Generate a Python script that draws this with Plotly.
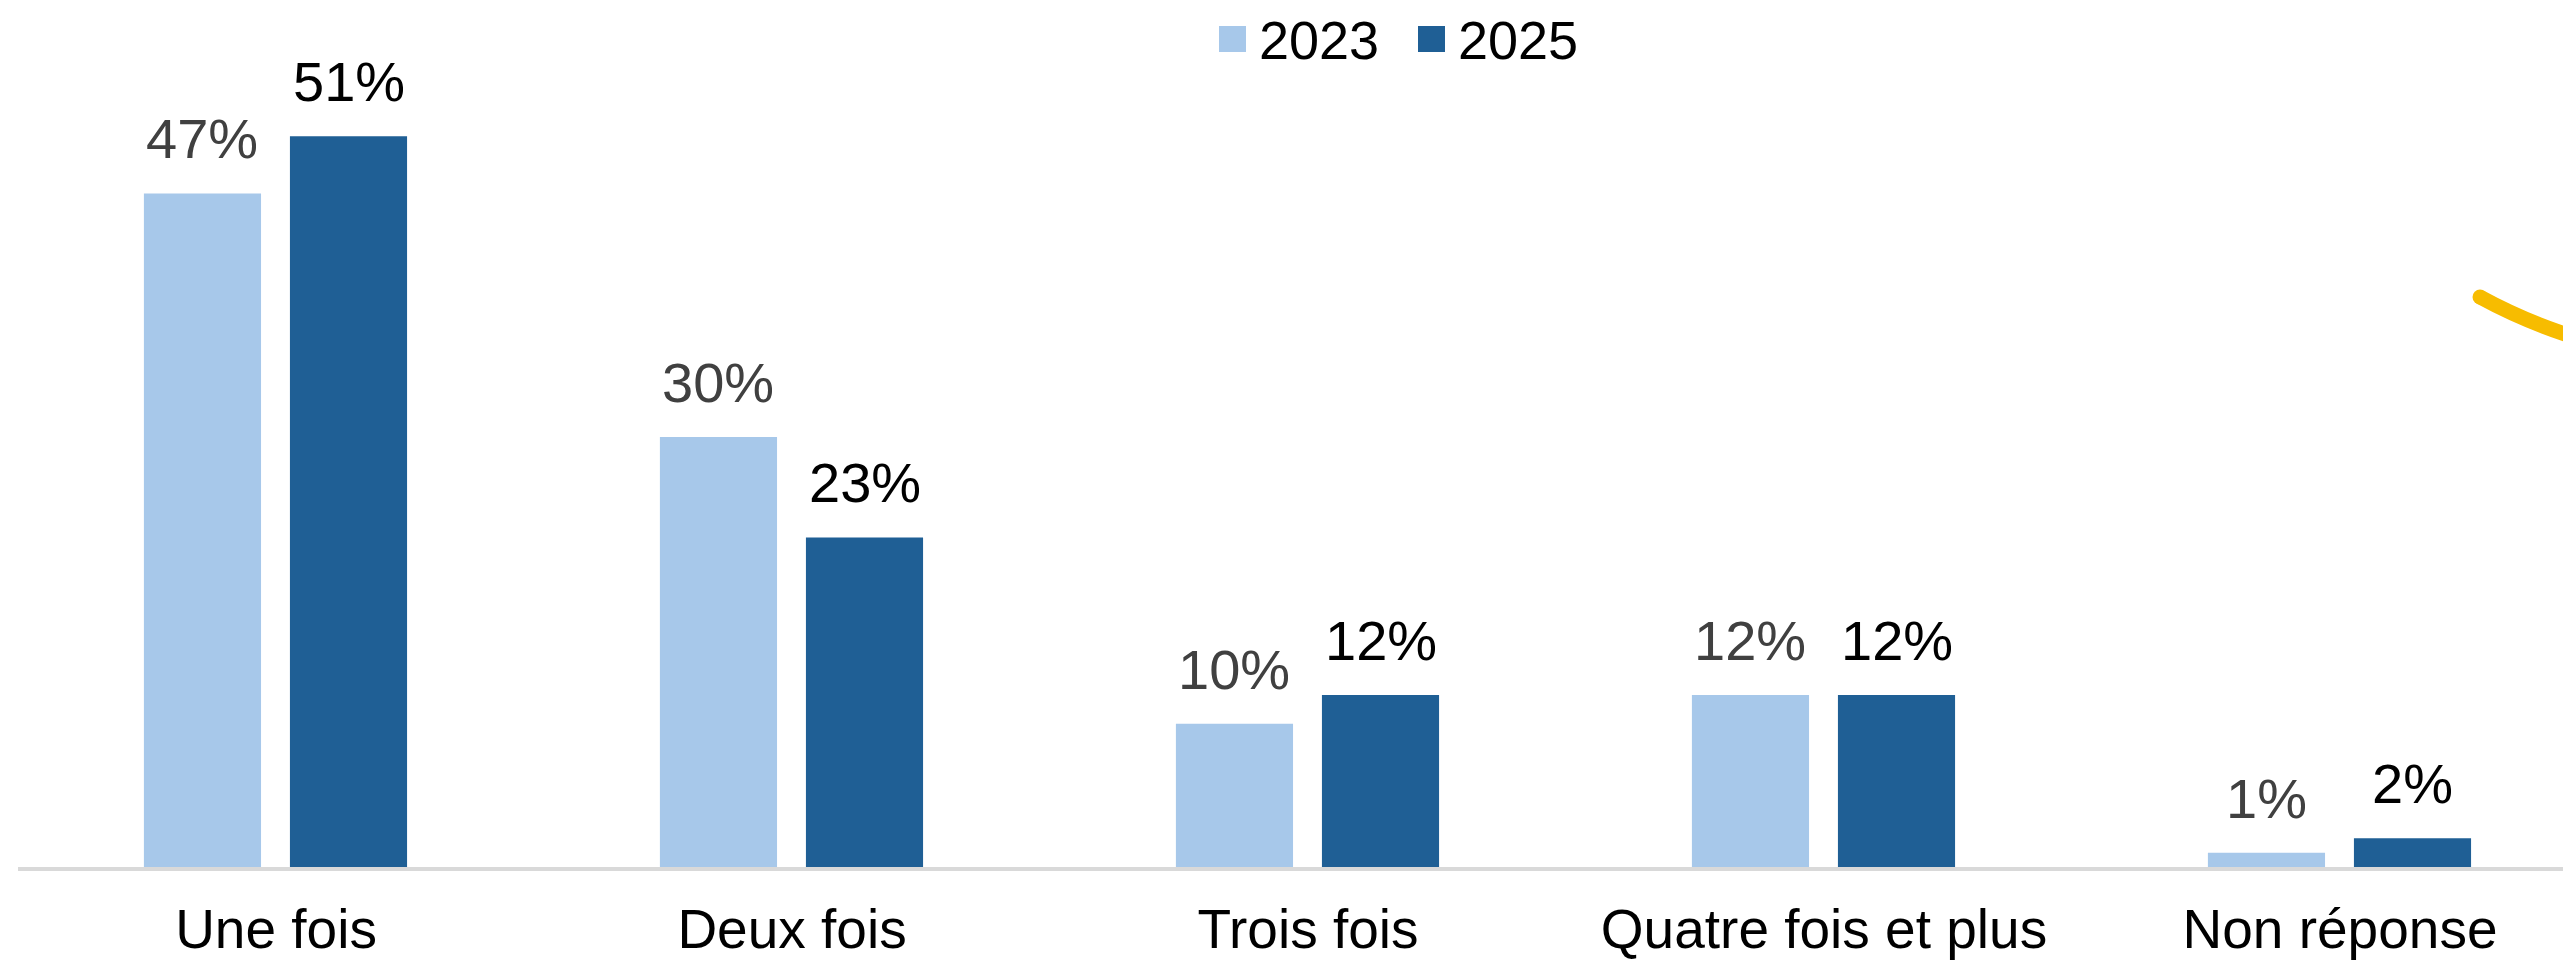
import plotly.graph_objects as go

categories = ["Une fois", "Deux fois", "Trois fois", "Quatre fois et plus", "Non réponse"]
years = ["2023", "2025"]
values_2023 = [47, 30, 10, 12, 1]
values_2025 = [51, 23, 12, 12, 2]

colors = {"2023": "#A7C8EA", "2025": "#1F5F95"}
label_colors = {"2023": "#404040", "2025": "#000000"}
FONT = "Arial, Liberation Sans, sans-serif"

# page has an 8px body margin, so the figure is drawn 8px in from the window corner
W, H = 2563, 952
ML, MR, MT, MB = 10, 0, 0, 93
plot_w = W - ML - MR
plot_h = H - MT - MB
px_per_unit = 14.33
ymax = plot_h / px_per_unit

bar_w = 0.227
offsets = {"2023": -0.256, "2025": 0.027}


def paper(fx, fy):
    return (fx - ML) / plot_w, (H - MB - fy) / plot_h


fig = go.Figure()
xs = list(range(len(categories)))
for yr, vals in zip(years, [values_2023, values_2025]):
    fig.add_trace(go.Bar(
        x=xs, y=vals, name=yr, width=bar_w, offset=offsets[yr],
        marker=dict(color=colors[yr], line=dict(width=0)),
        hoverinfo="skip", showlegend=False,
    ))
    for x, v in zip(xs, vals):
        fig.add_annotation(
            x=x + offsets[yr] + bar_w / 2, y=v, xref="x", yref="y",
            text=f"{v}%", showarrow=False, yanchor="bottom", yshift=21,
            font=dict(family=FONT, size=56, color=label_colors[yr]),
        )

# legend (drawn by hand for large square keys)
legend_sq = {"2023": (1211, 1238), "2025": (1410, 1437)}
for yr in years:
    x0, x1 = legend_sq[yr]
    a = paper(x0, 18)
    b = paper(x1, 44)
    fig.add_shape(type="rect", xref="paper", yref="paper",
                  x0=a[0], x1=b[0], y0=b[1], y1=a[1],
                  fillcolor=colors[yr], line=dict(width=0))
    t = paper(x1 + 11, 32)
    fig.add_annotation(xref="paper", yref="paper", x=t[0], y=t[1],
                       xanchor="left", yanchor="middle", text=yr, showarrow=False,
                       font=dict(family=FONT, size=54, color="#000000"))

# decorative yellow arc at right edge
p0 = paper(2472, 289)
p1 = paper(2515, 312.5)
p2 = paper(2563, 328)
fig.add_shape(
    type="path", xref="paper", yref="paper",
    path=f"M {p0[0]},{p0[1]} Q {p1[0]},{p1[1]} {p2[0]},{p2[1]}",
    line=dict(color="#F7BC00", width=15),
)
c0 = paper(2472 - 7.5, 289 - 7.5)
c1 = paper(2472 + 7.5, 289 + 7.5)
fig.add_shape(type="circle", xref="paper", yref="paper",
              x0=c0[0], x1=c1[0], y0=c1[1], y1=c0[1],
              fillcolor="#F7BC00", line=dict(width=0))

fig.update_layout(
    width=W, height=H,
    margin=dict(l=ML, r=MR, t=MT, b=MB, autoexpand=False),
    paper_bgcolor="white", plot_bgcolor="white",
    barmode="overlay",
    showlegend=False,
    xaxis=dict(
        range=[-0.5, -0.5 + plot_w / 516.0], tickmode="array", tickvals=xs, ticktext=categories,
        showline=True, linecolor="#D9D9D9", linewidth=4, showgrid=False,
        zeroline=False, ticks="", ticklabelstandoff=11, automargin=False,
        tickfont=dict(family=FONT, size=55, color="#000000"),
        fixedrange=True,
    ),
    yaxis=dict(range=[0, ymax], visible=False, showgrid=False, zeroline=False,
               fixedrange=True, automargin=False),
)

fig.write_html("out.html")
